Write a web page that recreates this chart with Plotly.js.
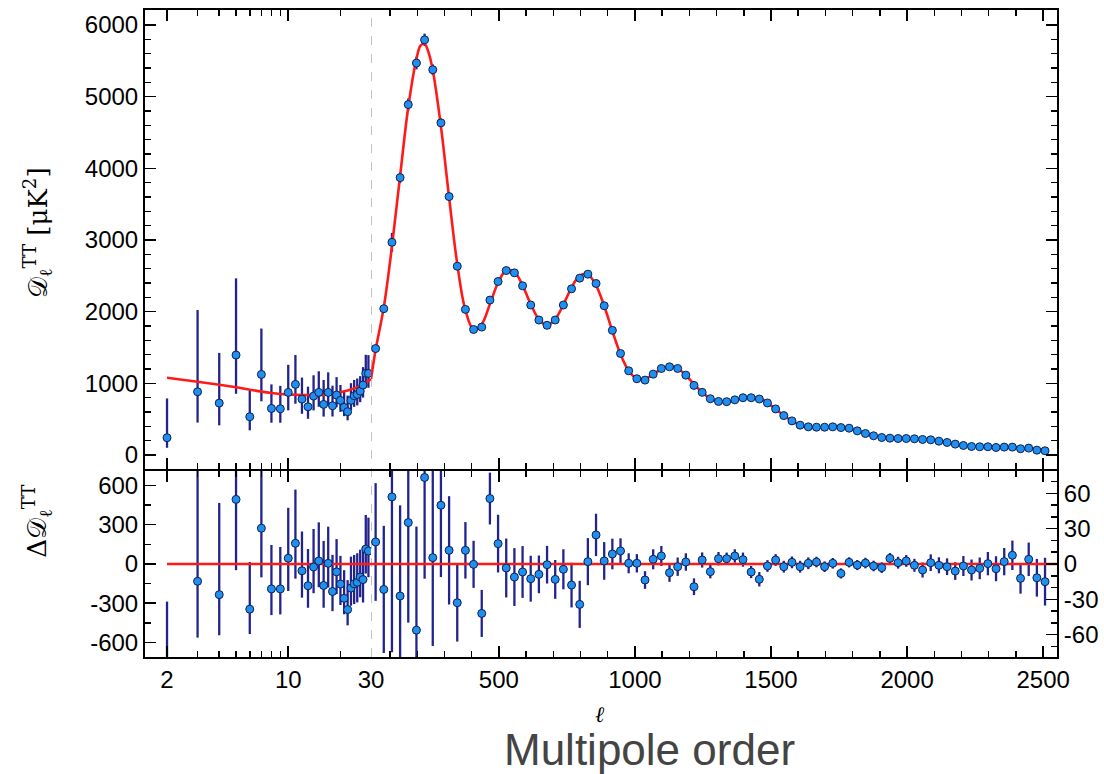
<!DOCTYPE html>
<html>
<head>
<meta charset="utf-8">
<script src="https://cdn.plot.ly/plotly-3.0.1.min.js"></script>
<style>html,body{margin:0;padding:0;background:#fff;}#chart{width:1104px;height:774px;}</style>
</head>
<body>
<div id="chart"></div>
<script>
// ---------- low-ell (2..29) ----------
const lowL = [2,3,4,5,6,7,8,9,10,11,12,13,14,15,16,17,18,19,20,21,22,23,24,25,26,27,28,29];
const lowD = [242,883,725,1395,535,1125,651,646,874,986,781,674,823,874,707,874,688,837,763,665,605,763,828,846,893,977,1139,1139];
const lowErrPlus = [548,1140,700,1070,360,640,335,320,385,410,300,280,290,295,340,280,280,250,215,215,225,240,220,222,208,250,260,255];
const lowErrMinus = [140,430,310,540,190,375,200,195,250,270,205,168,200,200,170,185,150,170,160,122,120,135,155,153,155,175,187,200];
const lowRes = [-835,-132,-234,493,-345,273,-190,-190,44,158,-52,-166,-23,23,-164,5,-210,-60,-153,-262,-348,-184,-151,-140,-99,-119,114,99];

// ---------- binned high-ell ----------
const hiL = [47,77,107,137,167,197,227,257,287,317,
  347,377,407,437,467,497,527,557,587,617,
  647,677,707,737,767,797,827,857,887,917,
  947,977,1007,1037,1067,1097,1127,1157,1187,1217,
  1247,1277,1307,1337,1367,1397,1427,1457,1487,1517,
  1547,1577,1607,1637,1667,1697,1727,1757,1787,1817,
  1847,1877,1907,1937,1967,1997,2027,2057,2087,2117,
  2147,2177,2207,2237,2267,2297,2327,2357,2387,2417,
  2447,2477,2507];
const hiD = [1486,2042,2968,3870,4889,5468,5792,5375,4634,3606,
  2634,2032,1752,1785,2162,2421,2574,2542,2361,2093,
  1884,1810,1884,2093,2319,2468,2523,2393,2083,1740,
  1417,1176,1065,1046,1129,1208,1231,1208,1115,972,
  875,786,748,745,770,800,800,782,727,644,
  551,477,417,394,389,389,394,384,375,338,
  301,269,245,236,231,231,227,218,213,194,
  176,153,134,120,116,116,106,111,111,88,
  97,69,60];
const hiErr = [50,54,132,77,85,88,86,75,61,46,
  33,24,20,20,22,24.5,25,24.6,22,19.5,
  16,16,16.5,17,19,20,20,18,16,13,
  10.7,8.5,7.8,7.5,8.5,8.5,7.8,7.8,7.4,7.1,
  6.4,5.7,5.7,5.2,5.7,6,5.2,6.1,5,5,
  5,5,5,5,4.5,4.5,4.5,4.3,4.3,4.3,
  4.5,4.5,4.5,4.5,5,5,5.5,6.4,7.1,6.8,
  7.1,7.5,8.5,8.9,9.2,9.9,10.6,11.6,12.5,13,
  14.2,16,20.3];
const hiRes = [18.7,-21.6,57,-27.2,35.2,-56.2,73.5,5.4,49.9,11.6,
  -32.9,11.6,-0.3,-42,55.6,17.3,-3.4,-11.1,-6.8,-12.5,
  -8.8,-0.6,-13.1,-4.5,-17.9,-34.3,2.0,24.7,2.6,8.5,
  11.1,0.6,0.6,-13.6,4.0,6.8,-7.4,-2.3,1.7,-19.3,
  3.4,-6.5,4.5,4.5,6.8,3.7,-6.8,-13,-1.7,3.4,
  -2.3,1.4,-2.3,0.6,1.7,-2.3,0.6,-8,1.4,-0.9,
  0.8,-1.7,-3.1,4.8,1.1,2.6,-1.1,-5.1,1.1,-1.1,
  -2.3,-6,-1.7,-5.1,-3.7,0.3,-4,2,7.4,-12.2,
  4,-11.7,-15];

// ---------- best-fit model curve ----------
const thLowL = [2,3,4,5,6,7,8,9,10,12,14,16,18,20,22,24,26,28,30];
const thLowD = [1078,1022,980,945,912,885,865,852,845,838,837,840,852,875,900,930,965,1010,1060];
const thHiL = [30,47,77,107,137,167,197,212,227,242,257,287,317,347,377,407,437,467,497,527,
  557,587,617,647,677,707,737,767,797,827,857,887,917,947,977,1007,1037,1067,1097,1127,
  1157,1187,1217,1247,1277,1307,1337,1367,1397,1427,1457,1487,1517,1547,1577,1607,1637,1667,1697,1727,
  1757,1787,1817,1847,1877,1907,1937,1967,1997,2027,2057,2087,2117,2147,2177,2207,2237,2267,2297,2327,
  2357,2387,2417,2447,2477,2507];
const thHiD = [1060,1470,2060,2910,3895,4855,5525,5712,5735,5610,5370,4584,3594,2667,2020,1752,1827,2106,2404,2577,
  2553,2368,2106,1893,1811,1897,2098,2337,2502,2521,2368,2080,1731,1406,1176,1065,1060,1125,1201,1238,
  1210,1113,991,872,792,744,741,763,796,807,795,729,641,553,476,419,393,387,391,393,
  392,374,339,300,271,248,232,230,228,226,221,210,194,176,158,138,126,119,115,110,
  108,103,99,93,83,76];

// residual reference line
const zeroLowL = [2, 30];
const zeroHiL = [30, 2551];
const zeroRes = [0, 0];

// tick labels
const lowTickVals = [2, 10, 30];
const lowTickText = ['2', '10', '30'];
const lowMinorVals = [3,4,5,6,7,8,9,20];
const hiTickVals = [500, 1000, 1500, 2000, 2500];
const hiTickText = ['500', '1000', '1500', '2000', '2500'];
const resLowTickVals = [-600, -300, 0, 300, 600];
const resLowTickText = ['-600', '-300', '0', '300', '600'];
const resHiTickVals = [-60, -30, 0, 30, 60];
const resHiTickText = ['-60', '-30', '0', '30', '60'];

// ---------- styles ----------
const RED = '#ff1a1a';
const BAR = '#23238f';
const PT = '#1f8ff0';
const mk = {size: 8, color: PT, line: {color: '#0f1f50', width: 1}};
const noMk = {size: 8, color: 'rgba(0,0,0,0)', line: {width: 0}};
const ebar = (plus, minus) => minus ?
  {type: 'data', symmetric: false, array: plus, arrayminus: minus, color: BAR, thickness: 2.3, width: 0} :
  {type: 'data', array: plus, color: BAR, thickness: 2.3, width: 0};

const traces = [
  {x: lowL, y: lowD, xaxis: 'x', yaxis: 'y', mode: 'markers', marker: noMk, error_y: ebar(lowErrPlus, lowErrMinus)},
  {x: hiL, y: hiD, xaxis: 'x2', yaxis: 'y2', mode: 'markers', marker: noMk, error_y: ebar(hiErr)},
  {x: lowL, y: lowRes, xaxis: 'x3', yaxis: 'y3', mode: 'markers', marker: noMk, error_y: ebar(lowErrPlus, lowErrMinus)},
  {x: hiL, y: hiRes, xaxis: 'x4', yaxis: 'y4', mode: 'markers', marker: noMk, error_y: ebar(hiErr)},
  {x: thLowL, y: thLowD, xaxis: 'x', yaxis: 'y', mode: 'lines', line: {color: RED, width: 2.6, shape: 'spline'}},
  {x: thHiL, y: thHiD, xaxis: 'x2', yaxis: 'y2', mode: 'lines', line: {color: RED, width: 2.6, shape: 'spline'}},
  {x: zeroLowL, y: zeroRes, xaxis: 'x3', yaxis: 'y3', mode: 'lines', line: {color: RED, width: 2.6}},
  {x: zeroHiL, y: zeroRes, xaxis: 'x4', yaxis: 'y4', mode: 'lines', line: {color: RED, width: 2.6}},
  {x: lowL, y: lowD, xaxis: 'x', yaxis: 'y', mode: 'markers', marker: mk},
  {x: hiL, y: hiD, xaxis: 'x2', yaxis: 'y2', mode: 'markers', marker: mk},
  {x: lowL, y: lowRes, xaxis: 'x3', yaxis: 'y3', mode: 'markers', marker: mk},
  {x: hiL, y: hiRes, xaxis: 'x4', yaxis: 'y4', mode: 'markers', marker: mk}
];

const S = 0.2478;             // split of the log / linear ell ranges
const B = 0.2875;             // bottom panel height
const BT = B + 2 / 647;       // top panel start (so both boundary lines coincide)
const minorBase = {ticks: 'inside', ticklen: 6, tickwidth: 1.5, tickcolor: '#000', showgrid: false};
const ax = {
  showline: true, linecolor: '#000', linewidth: 2, ticks: 'inside', ticklen: 11, tickwidth: 1.6,
  tickcolor: '#000', showgrid: false, zeroline: false, fixedrange: true, ticklabelstandoff: 0,
  tickfont: {family: 'Liberation Sans, Arial, sans-serif', size: 24, color: '#000'}
};

const layout = {
  width: 1104, height: 774,
  margin: {l: 145, r: 47, t: 10, b: 117},
  paper_bgcolor: '#fff', plot_bgcolor: '#fff',
  showlegend: false,
  xaxis: Object.assign({}, ax, {domain: [0, S], type: 'log', range: [0.174, 1.4772], anchor: 'y', mirror: 'ticks',
    tickmode: 'array', tickvals: lowTickVals, showticklabels: false,
    minor: Object.assign({tickmode: 'array', tickvals: lowMinorVals}, minorBase)}),
  xaxis2: Object.assign({}, ax, {domain: [S, 1], range: [30, 2551], anchor: 'y2', mirror: 'ticks',
    tickmode: 'array', tickvals: hiTickVals, showticklabels: false,
    minor: Object.assign({tick0: 0, dtick: 100}, minorBase)}),
  xaxis3: Object.assign({}, ax, {domain: [0, S], type: 'log', range: [0.174, 1.4772], anchor: 'y3', mirror: 'ticks',
    tickmode: 'array', tickvals: lowTickVals, ticktext: lowTickText,
    minor: Object.assign({tickmode: 'array', tickvals: lowMinorVals}, minorBase)}),
  xaxis4: Object.assign({}, ax, {domain: [S, 1], range: [30, 2551], anchor: 'y4', mirror: 'ticks',
    tickmode: 'array', tickvals: hiTickVals, ticktext: hiTickText,
    minor: Object.assign({tick0: 0, dtick: 100}, minorBase)}),
  yaxis: Object.assign({}, ax, {domain: [BT, 1], range: [-194, 6208], anchor: 'x', side: 'left',
    tickmode: 'linear', tick0: 0, dtick: 1000,
    minor: Object.assign({tick0: 0, dtick: 200}, minorBase)}),
  yaxis2: Object.assign({}, ax, {domain: [BT, 1], range: [-194, 6208], anchor: 'x2', side: 'right',
    tickmode: 'linear', tick0: 0, dtick: 1000, showticklabels: false,
    minor: Object.assign({tick0: 0, dtick: 200}, minorBase)}),
  yaxis3: Object.assign({}, ax, {domain: [0, B], range: [-710, 710], anchor: 'x3', side: 'left',
    tickmode: 'array', tickvals: resLowTickVals, ticktext: resLowTickText,
    minor: Object.assign({tick0: 0, dtick: 150}, minorBase)}),
  yaxis4: Object.assign({}, ax, {domain: [0, B], range: [-79, 79], anchor: 'x4', side: 'right',
    tickmode: 'array', tickvals: resHiTickVals, ticktext: resHiTickText,
    minor: Object.assign({tick0: 0, dtick: 10}, minorBase)}),
  shapes: [
    {type: 'line', xref: 'x2', yref: 'paper', x0: 30, x1: 30, y0: 0, y1: 1,
     line: {color: '#9a9a9a', width: 1.2, dash: 'dash'}, layer: 'below'}
  ],
  annotations: [
    {xref: 'paper', yref: 'paper', x: -0.1184, y: 0.655, xanchor: 'center', yanchor: 'middle',
     textangle: -90, showarrow: false,
     text: '𝒟<sub>ℓ</sub><sup>TT</sup> [μK<sup>2</sup>]',
     font: {family: 'DejaVu Serif, Liberation Serif, serif', size: 26, color: '#000'}},
    {xref: 'paper', yref: 'paper', x: -0.1184, y: 0.209, xanchor: 'center', yanchor: 'middle',
     textangle: -90, showarrow: false,
     text: 'Δ𝒟<sub>ℓ</sub><sup>TT</sup>',
     font: {family: 'DejaVu Serif, Liberation Serif, serif', size: 26, color: '#000'}},
    {xref: 'paper', yref: 'paper', x: 0.4989, y: -0.0896, xanchor: 'center', yanchor: 'middle', showarrow: false,
     text: '<i>ℓ</i>', font: {family: 'DejaVu Serif, Liberation Serif, serif', size: 22, color: '#000'}},
    {xref: 'paper', yref: 'paper', x: 0.5537, y: -0.1437, xanchor: 'center', yanchor: 'middle', showarrow: false,
     text: 'Multipole order', font: {family: 'Liberation Sans, Arial, sans-serif', size: 44, color: '#444'}}
  ]
};

Plotly.newPlot('chart', traces, layout, {displayModeBar: false, staticPlot: true});
</script>
</body>
</html>
